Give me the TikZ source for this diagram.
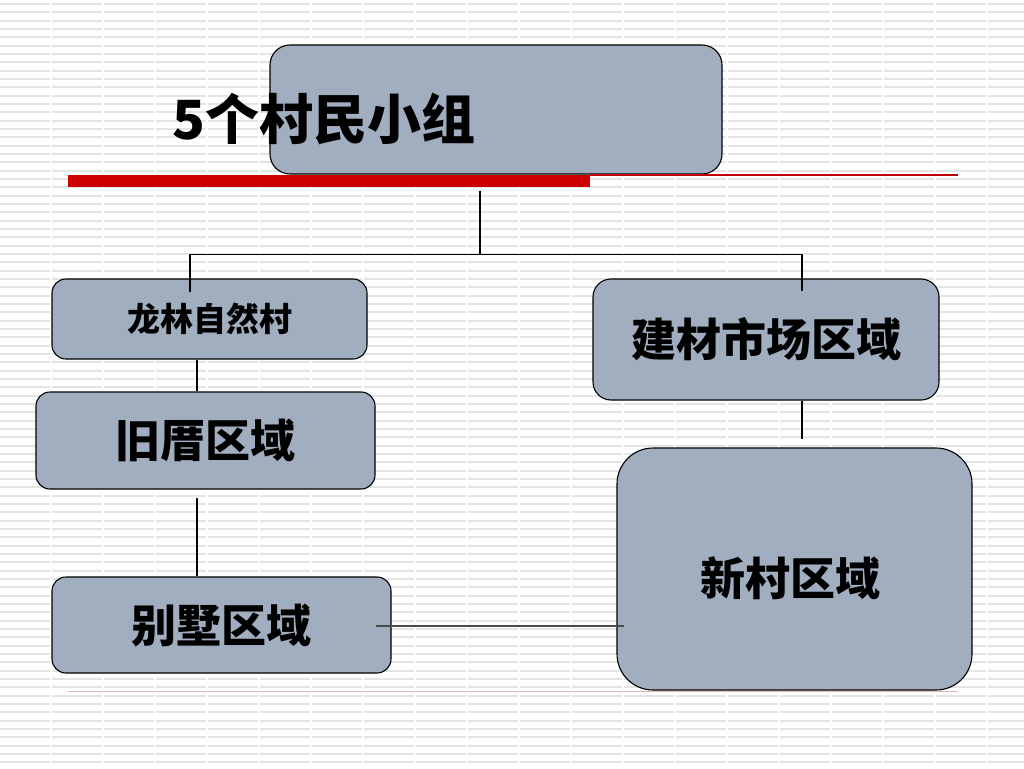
\documentclass[tikz,border=0pt]{standalone}
\usepackage{fontspec}
\newfontfamily\cjk{Noto Sans CJK SC}
\usetikzlibrary{calc}
\definecolor{boxfill}{HTML}{A1AEC0}
\definecolor{barred}{HTML}{CC0000}
\definecolor{thinred}{HTML}{C00000}
\definecolor{paleline}{HTML}{E2B4B4}
\definecolor{bgline}{HTML}{E4E4E4}
\definecolor{midgray}{HTML}{4A4A4A}
\begin{document}
\begin{tikzpicture}[x=1pt,y=-1pt,
  box/.style={draw=black,line width=1.1pt,fill=boxfill,inner sep=0pt},
  conn/.style={draw=black,line width=1.1pt},
  big/.style={font=\cjk\bfseries\fontsize{45}{50}\selectfont},
  small/.style={font=\cjk\bfseries\fontsize{33}{38}\selectfont}]
\useasboundingbox (0,0) rectangle (1024,768);
\fill[white] (0,0) rectangle (1024,768);
% background stripes
\foreach \k in {0,...,91}{
  \draw[bgline,line width=1.8pt,dash pattern=on 50pt off 2pt] (0,{4+8.333*\k}) -- (1024,{4+8.333*\k});
}
% title box and title
\node[box,rounded corners=20pt,minimum width=452pt,minimum height=129pt] (top) at (496,109.5) {};
\node[font=\cjk\bfseries\fontsize{54}{60}\selectfont,anchor=base west,inner sep=0pt] (title) at (172,139) {5个村民小组};
% red rule
\fill[barred] (68,175) rectangle (590,187);
\draw[thinred,line width=1.2pt] (590,175) -- (958,175);
\draw[paleline,line width=1pt] (68,691) -- (958,691);
% boxes
\node[box,rounded corners=14pt,minimum width=315pt,minimum height=80pt,small] (ll) at (209.5,319) {龙林自然村};
\node[box,rounded corners=14pt,minimum width=339pt,minimum height=97pt,big] (jc) at (205.5,440.5) {旧厝区域};
\node[box,rounded corners=14pt,minimum width=339pt,minimum height=96pt,big] (bs) at (221.5,625) {别墅区域};
\node[box,rounded corners=18pt,minimum width=346pt,minimum height=121pt,big] (jm) at (766,339.5) {建材市场区域};
\node[box,rounded corners=36pt,minimum width=355pt,minimum height=242pt] (xc) at (794.5,569) {};
\node[big,inner sep=0pt] (xct) at ($(xc)+(-4.5,9)$) {新村区域};
% connectors
\coordinate (tb) at ($(top.south)+(-16,16)$);
\coordinate (jn) at ($(top.south)+(-16,80)$);
\draw[conn] (tb) -- (jn);
\draw[conn] ($(ll.north)+(-19.5,14)$) |- (jn) -| ($(jm.north)+(36,13)$);
\draw[conn] ($(ll.south)+(-12.5,0)$) -- ($(jc.north)+(-8.5,0)$);
\draw[conn] ($(jc.south)+(-8.5,8)$) -- ($(bs.north)+(-24.5,0)$);
\draw[conn] ($(jm.south)+(36,0)$) -- ($(xc.north)+(7.5,-8)$);
\draw[midgray,line width=1.3pt] ($(bs.east)+(-16,1)$) -- ($(xc.west)+(8,57)$);
\end{tikzpicture}
\end{document}
